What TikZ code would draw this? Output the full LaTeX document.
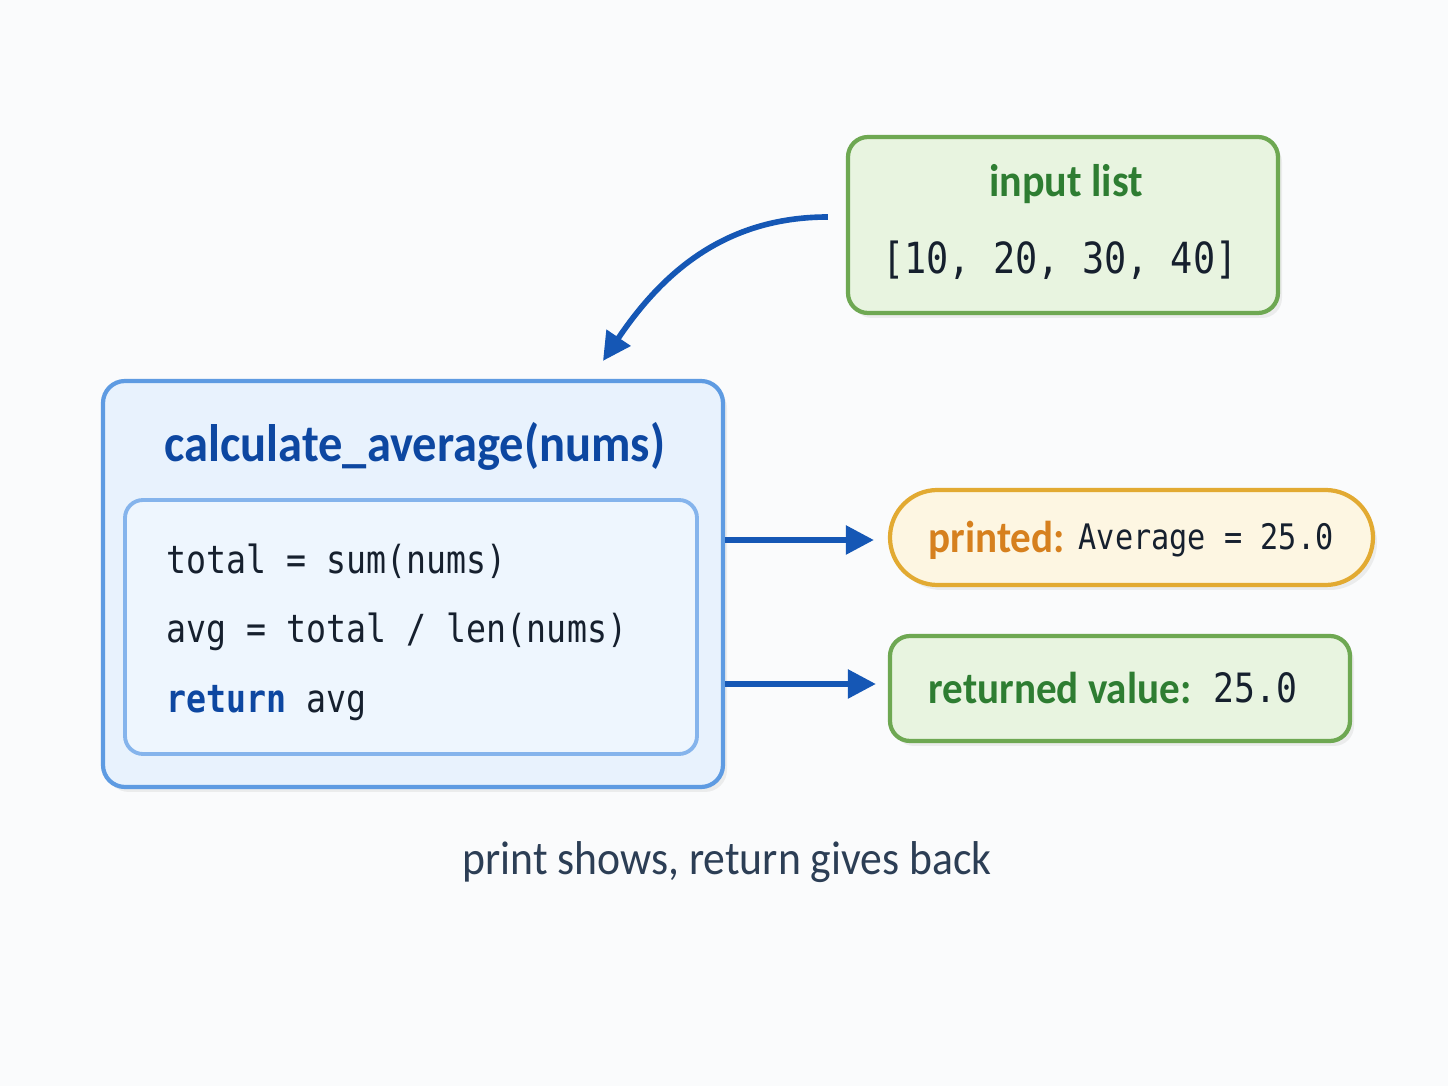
\documentclass[tikz,border=0pt]{standalone}
\usepackage{fontspec}
\usepackage{tikz}
\usetikzlibrary{arrows.meta,shadows}
\setmainfont[FakeStretch=0.92]{Carlito}
\newfontfamily\codefont[FakeStretch=0.86]{DejaVu Sans Mono}

\definecolor{bgcol}{RGB}{250,251,252}
\definecolor{arrblue}{RGB}{21,87,181}
\definecolor{titleblue}{RGB}{13,71,161}
\definecolor{mainfill}{RGB}{232,242,253}
\definecolor{mainline}{RGB}{94,155,226}
\definecolor{innerfill}{RGB}{238,246,254}
\definecolor{innerline}{RGB}{133,180,236}
\definecolor{grfill}{RGB}{232,244,224}
\definecolor{grline}{RGB}{110,168,82}
\definecolor{grtext}{RGB}{46,125,50}
\definecolor{orfill}{RGB}{253,246,226}
\definecolor{orline}{RGB}{226,170,50}
\definecolor{ortext}{RGB}{214,128,30}
\definecolor{ink}{RGB}{22,32,46}
\definecolor{capink}{RGB}{44,62,85}

\begin{document}
\begin{tikzpicture}[
    box/.style={draw, line width=1.2pt, rounded corners=0.2cm, inner sep=0pt,
        drop shadow={opacity=0.12, shadow xshift=0.04cm, shadow yshift=-0.05cm}},
    greenbox/.style={box, fill=grfill, draw=grline},
    arr/.style={draw=arrblue, line width=1.6pt, -{Triangle[length=2.8mm,width=2.8mm]}},
    codeline/.style={anchor=west, inner sep=0pt, text=ink, font=\codefont\fontsize{11}{13}\selectfont},
    label/.style={anchor=west, inner sep=0pt, font=\bfseries\fontsize{12.7}{15}\selectfont}]
    \fill[bgcol] (0,0) rectangle (14.48,-10.86);
    \useasboundingbox (0,0) rectangle (14.48,-10.86);

    % input list
    \node[greenbox, minimum width=4.30cm, minimum height=1.76cm] (inbox) at (10.63,-2.25) {};
    \node[text=grtext, font=\bfseries\fontsize{13}{15}\selectfont] (intitle) at (10.66,-1.84) {input list};
    \node[text=ink, font=\codefont\fontsize{12.2}{14}\selectfont] (inlist) at (10.60,-2.60) {[10, 20, 30, 40]};

    % function box
    \node[box, fill=mainfill, draw=mainline, minimum width=6.20cm, minimum height=4.06cm,
        rounded corners=0.22cm] (main) at (4.13,-5.84) {};
    \node[text=titleblue, font=\bfseries\fontsize{15}{18}\selectfont] (ftitle) at (4.15,-4.46) {calculate\_average(nums)};
    \node[draw=innerline, fill=innerfill, line width=1.1pt, rounded corners=0.18cm,
        minimum width=5.72cm, minimum height=2.54cm] (inner) at (4.11,-6.27) {};
    \node[codeline] (l1) at (1.66,-5.61) {total = sum(nums)};
    \node[codeline] (l2) at (1.66,-6.32) {avg = total / len(nums)};
    \node[codeline] (l3) at (1.66,-7.03) {\textcolor{titleblue}{\bfseries return} avg};

    % results
    \node[box, fill=orfill, draw=orline, minimum width=4.83cm, minimum height=0.95cm,
        rounded corners=0.475cm] (printed) at (11.315,-5.375) {};
    \node[label, text=ortext] (plabel) at (9.28,-5.40) {printed:};
    \node[anchor=west, inner sep=0pt, text=ink, font=\codefont\fontsize{10}{12}\selectfont] (pvalue)
        at (10.78,-5.40) {Average = 25.0};
    \node[greenbox, minimum width=4.60cm, minimum height=1.05cm] (returned) at (11.20,-6.885) {};
    \node[label, text=grtext] (rlabel) at (9.28,-6.88) {returned value:};
    \node[anchor=west, inner sep=0pt, text=ink, font=\codefont\fontsize{11.5}{13}\selectfont] (rvalue)
        at (12.13,-6.88) {25.0};

    % arrows
    \draw[arr] ([xshift=-1.8mm, yshift=0.8mm]inbox.west) to[out=180, in=56]
        ([xshift=1.9cm, yshift=1.8mm]main.north);
    \draw[arr] ([yshift=-0.25mm]main.east |- printed.west) -- ([xshift=-1.4mm, yshift=-0.25mm]printed.west);
    \draw[arr] ([yshift=0.45mm]main.east |- returned.west) -- ([xshift=-1.2mm, yshift=0.45mm]returned.west);

    \node[text=capink, font=\fontsize{13.5}{16}\selectfont] (caption) at (7.27,-8.62) {print shows, return gives back};
\end{tikzpicture}
\end{document}
